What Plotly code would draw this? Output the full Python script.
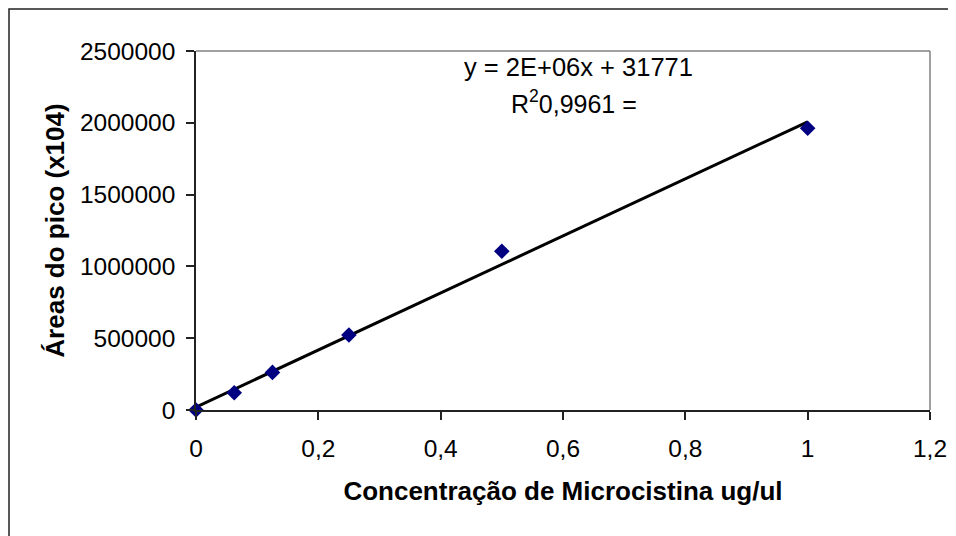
import numpy as np
import plotly.graph_objects as go

conc = [0, 0.0625, 0.125, 0.25, 0.5, 1.0]
areas = [0, 120000, 262000, 522000, 1106000, 1962000]
x_ticks = [0, 0.2, 0.4, 0.6, 0.8, 1.0, 1.2]
y_ticks = [0, 500000, 1000000, 1500000, 2000000, 2500000]
eq_text = "y = 2E+06x + 31771"
r2_text = "R<sup>2</sup>0,9961 ="
x_title = "Concentração de Microcistina ug/ul"
y_title = "Áreas do pico (x104)"

slope, intercept = np.polyfit(conc, areas, 1)
fit_x = [min(conc), max(conc)]
fit_y = [slope * v + intercept for v in fit_x]

FONT = "Liberation Sans, Arial, sans-serif"

fig = go.Figure()
fig.add_trace(go.Scatter(x=fit_x, y=fit_y, mode="lines",
                         line=dict(color="black", width=3), hoverinfo="skip"))
fig.add_trace(go.Scatter(x=conc, y=areas, mode="markers",
                         marker=dict(symbol="diamond", size=12, color="#000080",
                                     line=dict(width=0)),
                         cliponaxis=False))

OFF = 8  # page body margin
W, H = 956, 536
# target plot area in page pixels
PL, PR, PT, PB = 196, 930, 51, 410
L = PL - OFF
T = PT - OFF
R = W - (PR - OFF)
B = H - (PB - OFF)
pw, ph = PR - PL, PB - PT

def px_to_paper_x(px):
    return (px - PL) / pw

def py_to_paper_y(py):
    return (PB - py) / ph

fig.update_layout(
    width=W, height=H,
    margin=dict(l=L, r=R, t=T, b=B),
    paper_bgcolor="white", plot_bgcolor="white",
    showlegend=False,
    separators=",.",
    font=dict(family=FONT, size=24, color="black"),
    xaxis=dict(range=[0, 1.2], tickvals=x_ticks, showgrid=False, zeroline=False,
               showline=True, linecolor="#222", linewidth=1.5,
               ticks="outside", ticklen=8, tickcolor="#222", tickwidth=1.5,
               tickfont=dict(size=24.5), ticklabelstandoff=8,
               title=dict(text="<b>" + x_title + "</b>", font=dict(size=26), standoff=21)),
    yaxis=dict(range=[0, 2500000], tickvals=y_ticks, tickformat="d", showgrid=False,
               zeroline=False, showline=True, linecolor="#222", linewidth=1.5,
               ticks="outside", ticklen=8, tickcolor="#222", tickwidth=1.5,
               tickfont=dict(size=24.5), ticklabelstandoff=6,
               title=dict(text="<b>" + y_title + "</b>", font=dict(size=26), standoff=8)),
    shapes=[
        dict(type="line", xref="paper", yref="paper", x0=0, x1=1, y0=1, y1=1,
             line=dict(color="#808080", width=1.5)),
        dict(type="line", xref="paper", yref="paper", x0=1, x1=1, y0=0, y1=1,
             line=dict(color="#808080", width=1.5)),
        dict(type="rect", xref="paper", yref="paper",
             x0=px_to_paper_x(9), x1=px_to_paper_x(1000),
             y0=py_to_paper_y(600), y1=py_to_paper_y(9),
             line=dict(color="#222", width=1.5), layer="below"),
    ],
    annotations=[
        dict(text=eq_text, xref="paper", yref="paper",
             x=px_to_paper_x(578), y=py_to_paper_y(67), showarrow=False,
             xanchor="center", yanchor="middle", font=dict(size=25.5)),
        dict(text=r2_text, xref="paper", yref="paper",
             x=px_to_paper_x(574), y=py_to_paper_y(102), showarrow=False,
             xanchor="center", yanchor="middle", font=dict(size=25)),
    ],
)

fig.write_html("out.html")
